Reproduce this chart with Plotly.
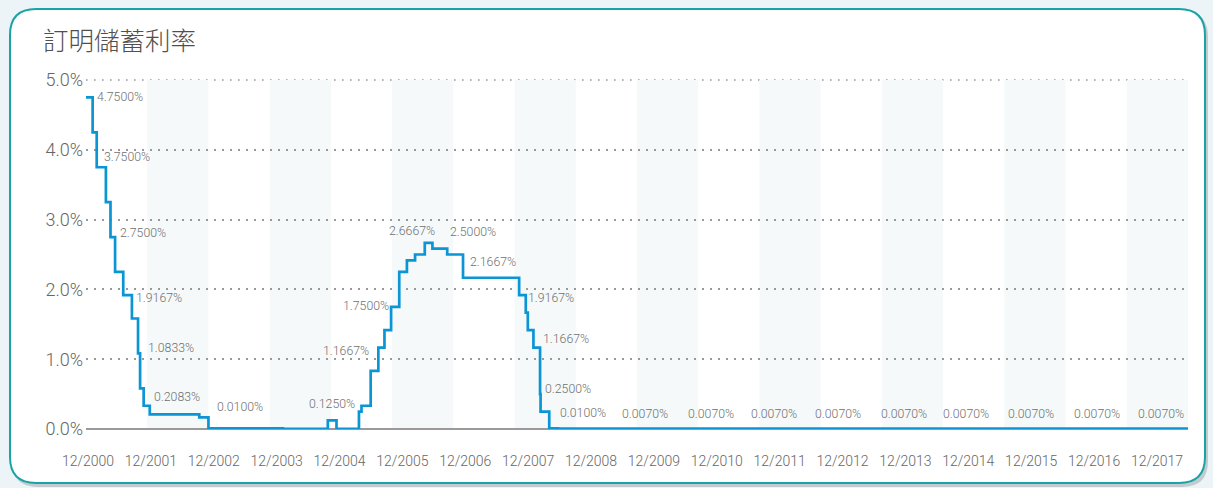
import plotly.graph_objects as go

# ---------------- data ----------------
title_text = "訂明儲蓄利率"

# months elapsed since 12/2000 at which the rate changes, and the rate (%) from then on
change_month = [0, 1.3, 2.1, 3.9, 4.8, 5.7, 7.3, 9.0, 10.2, 10.6, 11.3, 12.5, 22.2, 24.0,
                38.6, 47.4, 49.1, 53.5, 54.0, 55.8, 57.3, 58.5, 59.8, 61.4, 62.9, 64.5,
                66.4, 67.9, 70.8, 73.9, 84.9, 86.2, 86.6, 87.7, 89.0, 89.1, 90.8, 92.5, 216]
rate = [4.75, 4.25, 3.75, 3.25, 2.75, 2.25, 1.9167, 1.5833, 1.0833, 0.5833, 0.3333, 0.2083,
        0.1667, 0.01, 0.002, 0.125, 0.002, 0.25, 0.3333, 0.8333, 1.1667, 1.4167, 1.75, 2.25,
        2.4167, 2.5, 2.6667, 2.5833, 2.5, 2.1667, 1.9167, 1.6667, 1.4167, 1.1667, 0.5, 0.25,
        0.01, 0.007, 0.007]

tick_labels = [f"12/{y}" for y in range(2000, 2018)]
y_ticks = [0, 1, 2, 3, 4, 5]

# labelled points: month position of label, value shown
label_month = [1.76, 3.14, 6.27, 9.41, 11.76, 12.94, 25.28, 43.32, 46.06, 49.98, 59.0, 70.95,
               74.87, 86.24, 89.18, 89.57, 92.51,
               104.7, 117.6, 129.9, 142.5, 155.4, 167.6, 180.3, 193.3, 205.8]
label_value = [4.75, 3.75, 2.75, 1.9167, 1.0833, 0.2083, 0.01, 0.125, 1.1667, 1.75, 2.6667,
               2.5, 2.1667, 1.9167, 1.1667, 0.25, 0.01,
               0.007, 0.007, 0.007, 0.007, 0.007, 0.007, 0.007, 0.007, 0.007]

# ---------------- style ----------------
W, H = 1213, 488
L, R, T, B = 86, 25, 80, 59
PW, PH = W - L - R, H - T - B
label_shift = [0, 10, 4, -3, 5, 17, 21, 16, -3, 1, 12, 23, 16, -3, 9, 23, 15,
               15, 15, 15, 15, 15, 15, 15, 15, 15]
FONT = "Roboto, 'Liberation Sans', Arial, sans-serif"
LINE = "#0b95d5"
BG = "#edf4f7"
GRID = "#999999"
GRID_DASH = "1.6px,6.4px"

x_end = change_month[-1]
y_max = y_ticks[-1]
# tick label positions (label spacing in the original differs slightly from the year grid)
tick_pos = [0.39 + 12.325 * i for i in range(len(tick_labels))]


def px(xp):
    return (xp - L) / PW


def py(yp):
    return (H - B - yp) / PH


def rounded(x0, y0, x1, y1, r):
    pts = [
        ("M", [(x0 + r, y0)]), ("L", [(x1 - r, y0)]), ("Q", [(x1, y0), (x1, y0 + r)]),
        ("L", [(x1, y1 - r)]), ("Q", [(x1, y1), (x1 - r, y1)]), ("L", [(x0 + r, y1)]),
        ("Q", [(x0, y1), (x0, y1 - r)]), ("L", [(x0, y0 + r)]), ("Q", [(x0, y0), (x0 + r, y0)]),
    ]
    s = ""
    for cmd, ps in pts:
        s += cmd + " " + " ".join(f"{px(a):.5f},{py(b):.5f}" for a, b in ps) + " "
    return s + "Z"


shapes = [
    dict(type="path", xref="paper", yref="paper", path=rounded(12, 11, 1208, 487, 26),
         fillcolor="#c4cacd", line=dict(width=0), layer="below"),
    dict(type="path", xref="paper", yref="paper", path=rounded(10, 9, 1205, 483, 26),
         fillcolor="white", line=dict(color="#1aa3a6", width=2), layer="below"),
]
# alternating year bands
for k in range(1, 18, 2):
    shapes.append(dict(type="rect", xref="x", yref="y", x0=12 * k, x1=12 * (k + 1), y0=0, y1=y_max,
                       fillcolor="#f5f9fa", line=dict(width=0), layer="below"))
# top gridline (plotly omits the grid line lying on the plot edge)
shapes.append(dict(type="line", xref="paper", yref="paper", x0=0, x1=1, y0=1, y1=1,
                   line=dict(color=GRID, width=1.6, dash=GRID_DASH), layer="below"))

fig = go.Figure()
fig.add_trace(go.Scatter(x=change_month, y=rate, mode="lines", line=dict(color=LINE, width=2.7, shape="hv"),
                         hoverinfo="skip", showlegend=False))

annotations = []
for m, v, s in zip(label_month, label_value, label_shift):
    annotations.append(dict(x=m, y=v, xref="x", yref="y", text=f"{v:.4f}%", showarrow=False,
                            xanchor="left", yanchor="middle", yshift=s,
                            font=dict(family=FONT, size=12.3, color="#707070", weight=300)))

fig.update_layout(
    width=W, height=H,
    margin=dict(l=L, r=R, t=T, b=B, pad=0),
    paper_bgcolor=BG, plot_bgcolor="rgba(0,0,0,0)",
    title=dict(text=title_text, xref="container", yref="container", x=43 / W, xanchor="left",
               y=1 - 41 / H, yanchor="middle",
               font=dict(family="'Noto Sans CJK TC', 'Noto Sans CJK SC', sans-serif", size=25.5,
                         color="#505050", weight=300)),
    shapes=shapes, annotations=annotations,
    xaxis=dict(range=[0, x_end], showgrid=False, zeroline=False, showline=False,
               tickmode="array", tickvals=tick_pos, ticktext=tick_labels, ticks="",
               ticklabelstandoff=22, tickfont=dict(family=FONT, size=14, color="#666666", weight=300),
               fixedrange=True),
    yaxis=dict(range=[0, y_max], tickmode="array", tickvals=y_ticks,
               ticktext=[f"{t:.1f}%" for t in y_ticks], ticks="", ticklabelstandoff=2,
               showgrid=True, gridcolor=GRID, gridwidth=1.6, griddash=GRID_DASH,
               zeroline=True, zerolinecolor="#9a9a9a", zerolinewidth=2, showline=False,
               tickfont=dict(family=FONT, size=18, color="#666666", weight=300), fixedrange=True),
    showlegend=False,
)

fig.write_html("out.html", config={"displayModeBar": False},
               post_script=f"document.body.style.margin='0';document.body.style.background='{BG}';"
                           "document.documentElement.style.overflow='hidden';")
